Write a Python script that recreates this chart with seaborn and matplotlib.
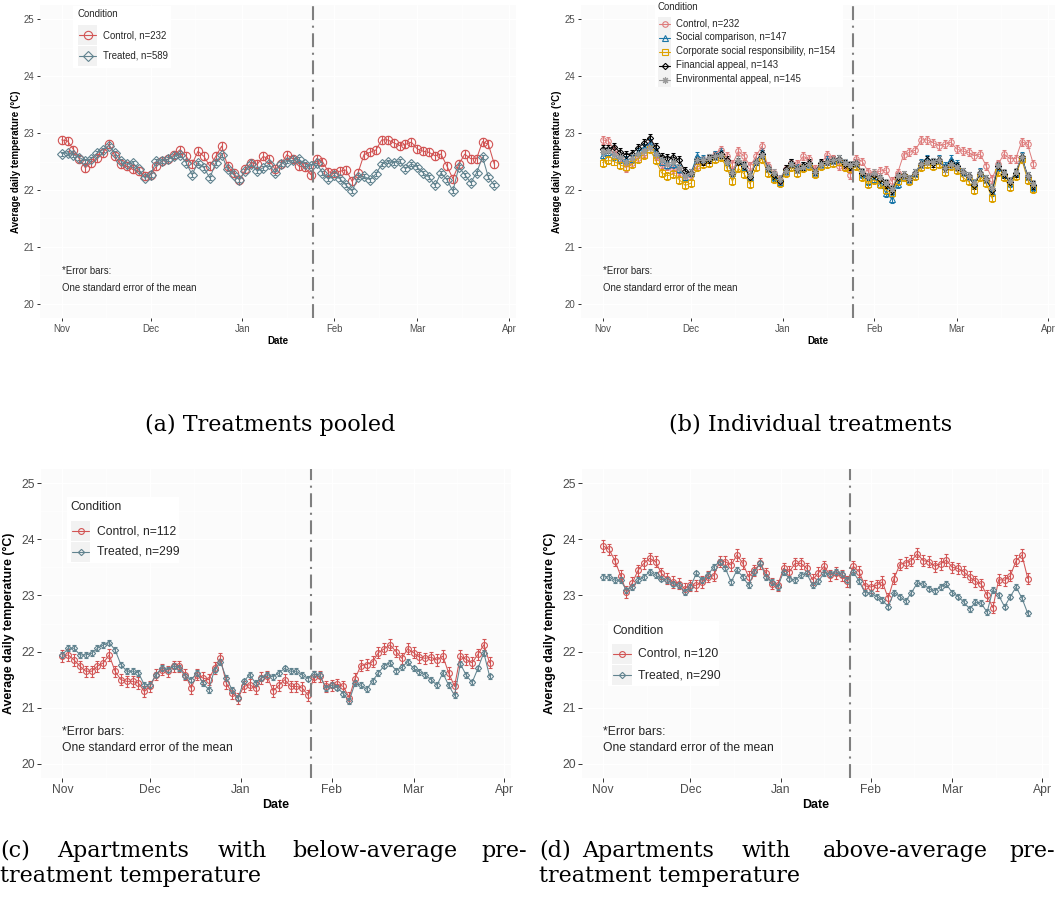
import numpy as np
import pandas as pd
import matplotlib
matplotlib.use("Agg")
import matplotlib.pyplot as plt
import matplotlib.dates as mdates
from matplotlib.patches import Rectangle
import seaborn as sns

# ---------------- data (every second day, 1 Nov 2017 .. 27 Mar 2018) ----------------
dates = pd.date_range("2017-11-01", "2018-03-27", freq="2D")

a_control = [22.88, 22.86, 22.71, 22.54, 22.39, 22.48, 22.57, 22.65, 22.80, 22.59,
             22.45, 22.42, 22.36, 22.33, 22.24, 22.27, 22.42, 22.51, 22.54, 22.62,
             22.71, 22.59, 22.45, 22.68, 22.59, 22.42, 22.59, 22.77, 22.42, 22.30,
             22.18, 22.36, 22.48, 22.45, 22.59, 22.54, 22.36, 22.45, 22.62, 22.55,
             22.42, 22.40, 22.27, 22.55, 22.50, 22.32, 22.30, 22.33, 22.35, 22.15,
             22.30, 22.62, 22.66, 22.70, 22.88, 22.88, 22.83, 22.78, 22.80, 22.84,
             22.72, 22.68, 22.66, 22.60, 22.63, 22.42, 22.20, 22.45, 22.63, 22.55,
             22.55, 22.85, 22.80, 22.45]
a_treated = [22.64, 22.65, 22.62, 22.57, 22.51, 22.55, 22.65, 22.71, 22.78, 22.65,
             22.51, 22.45, 22.48, 22.36, 22.21, 22.27, 22.51, 22.51, 22.54, 22.59,
             22.62, 22.48, 22.27, 22.48, 22.39, 22.21, 22.48, 22.62, 22.36, 22.27,
             22.18, 22.33, 22.45, 22.33, 22.39, 22.45, 22.30, 22.46, 22.50, 22.52,
             22.54, 22.46, 22.42, 22.47, 22.30, 22.19, 22.26, 22.19, 22.08, 21.98,
             22.22, 22.24, 22.18, 22.28, 22.45, 22.50, 22.48, 22.51, 22.37, 22.46,
             22.40, 22.30, 22.22, 22.08, 22.30, 22.18, 21.98, 22.40, 22.27, 22.13,
             22.30, 22.58, 22.22, 22.08]

b_social = [22.62, 22.66, 22.60, 22.55, 22.52, 22.55, 22.66, 22.74, 22.82, 22.66,
            22.50, 22.44, 22.46, 22.36, 22.22, 22.30, 22.60, 22.55, 22.56, 22.62,
            22.66, 22.50, 22.30, 22.50, 22.40, 22.22, 22.50, 22.66, 22.38, 22.22,
            22.14, 22.33, 22.48, 22.38, 22.42, 22.46, 22.32, 22.45,
            22.52, 22.52, 22.55, 22.48, 22.42, 22.48, 22.28, 22.16, 22.20, 22.10, 21.95, 21.84,
            22.10, 22.22, 22.20, 22.30, 22.48, 22.55, 22.50, 22.54, 22.42, 22.54, 22.45, 22.32,
            22.25, 22.10, 22.32, 22.20, 21.96, 22.40, 22.28, 22.12, 22.30, 22.60, 22.25, 22.05]
b_csr = [22.48, 22.52, 22.50, 22.44, 22.40, 22.45, 22.55, 22.62, 22.72, 22.52,
         22.30, 22.25, 22.28, 22.18, 22.08, 22.12, 22.40, 22.45, 22.48, 22.55,
         22.58, 22.40, 22.15, 22.38, 22.28, 22.10, 22.40, 22.55, 22.30, 22.20,
         22.12, 22.30, 22.40, 22.30, 22.38, 22.42, 22.28, 22.42,
         22.46, 22.48, 22.50, 22.40, 22.36, 22.42, 22.22, 22.10, 22.18, 22.10, 22.00, 21.95,
         22.15, 22.22, 22.15, 22.24, 22.40, 22.45, 22.42, 22.46, 22.32, 22.42, 22.35, 22.22,
         22.15, 22.00, 22.22, 22.12, 21.85, 22.32, 22.22, 22.05, 22.25, 22.55, 22.18, 22.02]
b_financial = [22.72, 22.72, 22.76, 22.66, 22.62, 22.64, 22.74, 22.82, 22.92, 22.75,
               22.58, 22.56, 22.58, 22.52, 22.33, 22.30, 22.52, 22.50, 22.54, 22.60,
               22.64, 22.52, 22.30, 22.50, 22.42, 22.22, 22.50, 22.64, 22.38, 22.26,
               22.16, 22.36, 22.48, 22.36, 22.42, 22.48, 22.32, 22.48,
               22.50, 22.52, 22.55, 22.46, 22.42, 22.48, 22.30, 22.22, 22.26, 22.20, 22.10, 22.00,
               22.22, 22.26, 22.20, 22.30, 22.45, 22.52, 22.48, 22.52, 22.38, 22.48, 22.42, 22.32,
               22.24, 22.08, 22.30, 22.20, 22.00, 22.42, 22.28, 22.14, 22.30, 22.58, 22.25, 22.08]
b_environmental = [22.66, 22.68, 22.62, 22.58, 22.50, 22.56, 22.64, 22.68, 22.74, 22.64,
                   22.52, 22.46, 22.50, 22.38, 22.24, 22.30, 22.52, 22.52, 22.56, 22.60,
                   22.62, 22.50, 22.30, 22.52, 22.44, 22.26, 22.50, 22.62, 22.38, 22.30,
                   22.20, 22.34, 22.46, 22.36, 22.40, 22.46, 22.32, 22.46,
                   22.50, 22.52, 22.54, 22.48, 22.44, 22.48, 22.32, 22.22, 22.30, 22.22, 22.12, 22.02,
                   22.24, 22.26, 22.20, 22.30, 22.46, 22.50, 22.50, 22.52, 22.38, 22.46, 22.40, 22.32,
                   22.24, 22.12, 22.30, 22.20, 22.04, 22.44, 22.30, 22.16, 22.32, 22.58, 22.24, 22.10]

c_control = [21.92, 21.94, 21.85, 21.74, 21.65, 21.65, 21.74, 21.80, 21.94, 21.65,
             21.50, 21.47, 21.47, 21.44, 21.29, 21.38, 21.59, 21.68, 21.65, 21.74,
             21.74, 21.59, 21.35, 21.59, 21.53, 21.50, 21.71, 21.88, 21.44, 21.26,
             21.17, 21.38, 21.41, 21.35, 21.53, 21.56, 21.30, 21.40,
             21.50, 21.38, 21.38, 21.35, 21.22, 21.55, 21.56, 21.38, 21.40, 21.42, 21.38, 21.18,
             21.52, 21.75, 21.77, 21.82, 21.98, 22.05, 22.12, 22.00, 21.88, 22.05, 21.98, 21.90,
             21.88, 21.90, 21.85, 21.92, 21.62, 21.38, 21.92, 21.86, 21.80, 21.95, 22.12, 21.80]
c_treated = [21.94, 22.06, 22.06, 21.94, 21.94, 21.97, 22.06, 22.12, 22.16, 22.03,
             21.77, 21.65, 21.65, 21.62, 21.41, 21.41, 21.59, 21.71, 21.68, 21.74,
             21.71, 21.56, 21.50, 21.62, 21.44, 21.32, 21.68, 21.82, 21.53, 21.32,
             21.17, 21.47, 21.59, 21.44, 21.53, 21.59, 21.55, 21.62,
             21.70, 21.65, 21.65, 21.58, 21.52, 21.60, 21.58, 21.35, 21.40, 21.36, 21.25, 21.12,
             21.44, 21.40, 21.33, 21.48, 21.62, 21.75, 21.80, 21.66, 21.72, 21.82, 21.70, 21.64,
             21.58, 21.50, 21.40, 21.62, 21.40, 21.22, 21.78, 21.58, 21.45, 21.70, 21.98, 21.56]

d_control = [23.88, 23.82, 23.62, 23.35, 23.06, 23.22, 23.45, 23.57, 23.66, 23.60,
             23.39, 23.30, 23.24, 23.21, 23.12, 23.18, 23.18, 23.24, 23.33, 23.35,
             23.60, 23.60, 23.54, 23.72, 23.57, 23.33, 23.45, 23.57, 23.39, 23.21,
             23.18, 23.48, 23.42, 23.57, 23.57, 23.48, 23.28, 23.40,
             23.52, 23.36, 23.40, 23.36, 23.25, 23.52, 23.42, 23.17, 23.15, 23.18, 23.24, 22.95,
             23.30, 23.55, 23.58, 23.62, 23.74, 23.62, 23.60, 23.52, 23.56, 23.63, 23.50, 23.48,
             23.42, 23.33, 23.25, 23.20, 23.00, 22.78, 23.28, 23.27, 23.35, 23.62, 23.72, 23.30]
d_treated = [23.33, 23.33, 23.27, 23.27, 23.09, 23.15, 23.27, 23.33, 23.42, 23.36,
             23.30, 23.27, 23.21, 23.18, 23.06, 23.15, 23.39, 23.27, 23.36, 23.51,
             23.60, 23.48, 23.24, 23.45, 23.33, 23.18, 23.42, 23.57, 23.33, 23.24,
             23.15, 23.42, 23.30, 23.27, 23.36, 23.39, 23.18, 23.25,
             23.40, 23.38, 23.42, 23.38, 23.28, 23.42, 23.25, 23.05, 23.04, 22.98, 22.92, 22.80,
             23.05, 22.98, 22.90, 23.05, 23.22, 23.20, 23.12, 23.08, 23.15, 23.20, 23.05, 22.98,
             22.88, 22.76, 22.88, 22.86, 22.70, 23.10, 23.00, 22.80, 22.98, 23.15, 22.95, 22.68]

# standard errors (half-length of the error bars)
se_a = {"control": 0.07, "treated": 0.035}
se_b = 0.07
se_c = {"control": 0.10, "treated": 0.05}
se_d = {"control": 0.10, "treated": 0.05}

labels_a = ["Control, n=232", "Treated, n=589"]
labels_b = ["Control, n=232", "Social comparison, n=147", "Corporate social responsibility, n=154",
            "Financial appeal, n=143", "Environmental appeal, n=145"]
labels_c = ["Control, n=112", "Treated, n=299"]
labels_d = ["Control, n=120", "Treated, n=290"]

RED = "#D25454"
SLATE = "#61838F"
B_COLORS = ["#DE7C7C", "#1A76A8", "#DDA100", "#000000", "#9A9A9A"]
B_MARKERS = ["o", "^", "s", "D", (8, 2, 0)]
B_SIZES = [4.0, 4.4, 3.7, 3.2, 4.8]

# ---------------- figure ----------------
W, H, DPI = 1058, 923, 100
sns.set_theme(style="white")
plt.rcParams["font.family"] = ["Liberation Sans", "DejaVu Sans"]
plt.rcParams["lines.scale_dashes"] = False

fig = plt.figure(figsize=(W / DPI, H / DPI), dpi=DPI)
fig.patch.set_facecolor("white")

START = pd.Timestamp("2017-11-01")
CUTOFF = START + pd.Timedelta(hours=84.8 * 24)


def add_ax(l, t, r, b):
    return fig.add_axes([l / W, 1 - b / H, (r - l) / W, (b - t) / H])


def series(ax, vals, se, color, marker, ms, lw=0.75, mew=0.8, cap=1.1):
    df = pd.DataFrame({"Date": dates, "Temp": vals})
    ax.errorbar(df["Date"], df["Temp"], yerr=se, fmt="none", ecolor=color,
                elinewidth=mew, capsize=cap, capthick=mew, zorder=2)
    sns.lineplot(data=df, x="Date", y="Temp", ax=ax, color=color, linewidth=lw,
                 marker=marker, markersize=ms, markerfacecolor="none",
                 markeredgecolor=color, markeredgewidth=mew, errorbar=None,
                 legend=False, zorder=3)


def style(ax, fs, lab_fs, tlen, ypad, xpad):
    ax.set_facecolor("#FBFBFB")
    for s in ax.spines.values():
        s.set_visible(False)
    ax.set_ylim(19.75, 25.25)
    ax.set_yticks([20, 21, 22, 23, 24, 25])
    ax.set_yticks(np.arange(20.5, 25.0, 1.0), minor=True)
    ax.set_xlim(START - pd.Timedelta(days=7.3), START + pd.Timedelta(days=153.3))
    ax.xaxis.set_major_locator(mdates.MonthLocator())
    ax.xaxis.set_major_formatter(mdates.DateFormatter("%b"))
    ax.xaxis.set_minor_locator(mdates.DayLocator(bymonthday=16))
    ax.grid(True, which="major", color="white", lw=1.0)
    ax.grid(True, which="minor", color="white", lw=0.5)
    ax.set_axisbelow(True)
    ax.tick_params(which="major", length=tlen, width=0.7, color="#333333",
                   labelcolor="#4D4D4D", labelsize=fs, pad=1.6,
                   bottom=True, left=True)
    ax.tick_params(which="minor", length=0)
    ax.set_ylabel("Average daily temperature (°C)", fontsize=lab_fs,
                  fontweight="bold", labelpad=ypad, color="black")
    ax.set_xlabel("Date", fontsize=lab_fs, fontweight="bold", labelpad=xpad, color="black")
    ax.axvline(CUTOFF, color="#7F7F7F", lw=1.5, dashes=(10, 4, 1.5, 4), zorder=4)
    ax.text(START, 20.57, "*Error bars:", fontsize=fs, ha="left", va="center")
    ax.text(START, 20.28, "One standard error of the mean", fontsize=fs, ha="left", va="center")


# panel (a)
ax_a = add_ax(40, 5, 516, 318)
series(ax_a, a_control, se_a["control"], RED, "o", 6.0)
series(ax_a, a_treated, se_a["treated"], SLATE, "D", 4.6)
style(ax_a, 6.9, 7.0, 2.5, 2.0, 1.5)

# panel (b)
ax_b = add_ax(581, 5, 1055, 318)
for vals, col, mk, ms in zip([a_control, b_social, b_csr, b_financial, b_environmental],
                             B_COLORS, B_MARKERS, B_SIZES):
    series(ax_b, vals, se_b, col, mk, ms, lw=0.7, mew=0.75)
style(ax_b, 6.9, 7.0, 2.5, 2.0, 1.5)

# panel (c)
ax_c = add_ax(41, 469, 511, 778)
series(ax_c, c_control, se_c["control"], RED, "o", 4.2)
series(ax_c, c_treated, se_c["treated"], SLATE, "D", 3.2)
style(ax_c, 8.7, 8.9, 3.0, 4.0, 2.0)

# panel (d)
ax_d = add_ax(582, 469, 1049, 778)
series(ax_d, d_control, se_d["control"], RED, "o", 4.2)
series(ax_d, d_treated, se_d["treated"], SLATE, "D", 3.2)
style(ax_d, 8.7, 8.9, 3.0, 4.0, 2.0)

# ---------------- overlay: legends and captions ----------------
ov = fig.add_axes([0, 0, 1, 1])
ov.set_xlim(0, W)
ov.set_ylim(H, 0)
ov.axis("off")
ov.set_zorder(10)


def legend(bg, title_xy, key_x, key_w, key_h, rows, labels, colors, markers, sizes, label_x, fs):
    ov.add_patch(Rectangle((bg[0], bg[1]), bg[2] - bg[0], bg[3] - bg[1], fc="white", ec="none"))
    ov.text(title_xy[0], title_xy[1], "Condition", fontsize=fs, ha="left", va="center")
    for y, lab, c, m, s in zip(rows, labels, colors, markers, sizes):
        ov.add_patch(Rectangle((key_x, y - key_h / 2), key_w, key_h, fc="#F2F2F2", ec="none"))
        ov.plot([key_x + 1, key_x + key_w - 1], [y, y], color=c, lw=0.8)
        ov.plot([key_x + key_w / 2], [y], marker=m, ms=s, mfc="none", mec=c, mew=0.8, ls="none")
        ov.text(label_x, y, lab, fontsize=fs, ha="left", va="center")


legend((73, 6, 171, 68), (77, 14), 78, 19, 20, [35, 56], labels_a, [RED, SLATE],
       ["o", "D"], [6.0, 4.6], 103, 6.9)
legend((655, 0, 843, 87), (658, 7), 658, 13, 14, [23.5, 37.5, 51.5, 65.5, 79.5], labels_b,
       B_COLORS, B_MARKERS, B_SIZES, 676, 6.9)
legend((67, 497, 179, 563), (70, 507), 71, 19, 20, [531, 552], labels_c, [RED, SLATE],
       ["o", "D"], [4.2, 3.2], 97, 8.7)
legend((608, 621, 719, 686), (612, 631), 612, 20, 20, [654, 675], labels_d, [RED, SLATE],
       ["o", "D"], [4.2, 3.2], 638, 8.7)

CAP = dict(fontsize=16, family=["DejaVu Serif"], va="center", color="black")
ov.text(270, 425, "(a) Treatments pooled", ha="center", **CAP)
ov.text(811, 425, "(b) Individual treatments", ha="center", **CAP)

ov.text(0, 851, "(c)", ha="left", **CAP)
ov.text(123, 851, "Apartments", ha="center", **CAP)
ov.text(242, 851, "with", ha="center", **CAP)
ov.text(375, 851, "below-average", ha="center", **CAP)
ov.text(527, 851, "pre-", ha="right", **CAP)
ov.text(0, 876, "treatment temperature", ha="left", **CAP)

ov.text(539, 851, "(d)", ha="left", **CAP)
ov.text(648, 851, "Apartments", ha="center", **CAP)
ov.text(766, 851, "with", ha="center", **CAP)
ov.text(905, 851, "above-average", ha="center", **CAP)
ov.text(1055, 851, "pre-", ha="right", **CAP)
ov.text(539, 876, "treatment temperature", ha="left", **CAP)

fig.savefig("out.png", dpi=DPI, facecolor="white")
